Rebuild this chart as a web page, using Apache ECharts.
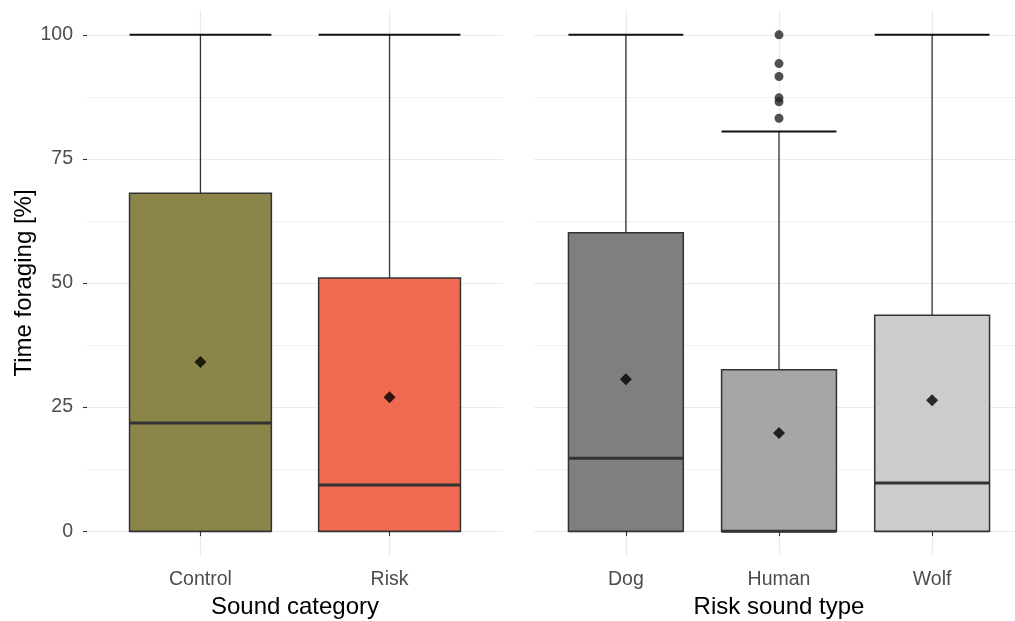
<!DOCTYPE html>
<html>
<head>
<meta charset="utf-8">
<title>Time foraging by sound</title>
<script src="https://cdn.jsdelivr.net/npm/echarts@6/dist/echarts.min.js"></script>
<style>
  html, body { margin: 0; padding: 0; background: #ffffff; }
  #chart { width: 1015px; height: 621px; }
</style>
</head>
<body>
<div id="chart"></div>
<script>
// ---- Panel 1: sound category ----
const soundCategories = ['Control', 'Risk'];
const soundWhiskerLow = [0, 0];
const soundQ1 = [0, 0];
const soundMedian = [21.8, 9.3];
const soundQ3 = [68.1, 51.0];
const soundWhiskerHigh = [100, 100];
const soundMean = [34.1, 27.0];

// ---- Panel 2: risk sound type ----
const riskTypes = ['Dog', 'Human', 'Wolf'];
const riskWhiskerLow = [0, 0, 0];
const riskQ1 = [0, 0, 0];
const riskMedian = [14.7, 0, 9.7];
const riskQ3 = [60.1, 32.5, 43.5];
const riskWhiskerHigh = [100, 80.5, 100];
const riskMean = [30.6, 19.8, 26.4];
const humanOutliers = [83.2, 86.5, 87.3, 91.6, 94.2, 100];

// tick labels
const yTicks = [0, 25, 50, 75, 100];
const yMinorTicks = [12.5, 37.5, 62.5, 87.5];

// fills
const soundFills = ['#8B8549', '#EE6A50'];
const riskFills = ['#7F7F7F', '#A6A6A6', '#CCCCCC'];

const FONT = 'Liberation Sans, Arial, sans-serif';
const GRID_COLOR = '#EBEBEB';
const INK = '#333333';

function boxData(lo, q1, med, q3, hi, fills) {
  return lo.map((_, i) => ({
    value: [i, lo[i], q1[i], med[i], q3[i], hi[i]],
    itemStyle: { color: fills[i] }
  }));
}

function renderBox(params, api) {
  const x = api.value(0);
  const lo = api.value(1), q1 = api.value(2), med = api.value(3), q3 = api.value(4), hi = api.value(5);
  const half = api.size([1, 0])[0] * 0.375;
  const cx = api.coord([x, 0])[0];
  const yLo = api.coord([x, lo])[1];
  const yQ1 = api.coord([x, q1])[1];
  const yMed = api.coord([x, med])[1];
  const yQ3 = api.coord([x, q3])[1];
  const yHi = api.coord([x, hi])[1];
  const fill = api.visual('color');
  return {
    type: 'group',
    children: [
      { type: 'line', shape: { x1: cx, y1: yHi, x2: cx, y2: yLo },
        style: { stroke: INK, lineWidth: 1.3 } },
      { type: 'line', shape: { x1: cx - half, y1: yHi, x2: cx + half, y2: yHi },
        style: { stroke: '#111111', lineWidth: 2 } },
      { type: 'line', shape: { x1: cx - half, y1: yLo, x2: cx + half, y2: yLo },
        style: { stroke: '#111111', lineWidth: 2 } },
      { type: 'rect', shape: { x: cx - half, y: yQ3, width: half * 2, height: yQ1 - yQ3 },
        style: { fill: fill, stroke: INK, lineWidth: 1.5 } },
      { type: 'line', shape: { x1: cx - half, y1: yMed, x2: cx + half, y2: yMed },
        style: { stroke: INK, lineWidth: 3 } }
    ]
  };
}

// x scale padded by 0.6 of a category on each side
function xAxisFor(gridIndex, names, axisTitle) {
  const idx = names.map((_, i) => i);
  return {
    type: 'value', gridIndex: gridIndex,
    min: -0.6, max: names.length - 1 + 0.6,
    name: axisTitle, nameLocation: 'middle', nameGap: 39,
    nameTextStyle: { fontFamily: FONT, fontSize: 24, color: '#000000' },
    axisLine: { show: false },
    axisTick: { show: true, customValues: idx, length: 5, lineStyle: { color: INK, width: 1.1 } },
    axisLabel: { customValues: idx, margin: 14, fontFamily: FONT, fontSize: 19.5, color: '#4D4D4D',
      formatter: v => names[Math.round(v)] },
    splitLine: { show: true, lineStyle: { color: GRID_COLOR, width: 1.2 } }
  };
}

function yAxisMajor(gridIndex, showLabels) {
  return {
    type: 'value', gridIndex: gridIndex, min: -5, max: 105, position: 'left',
    name: showLabels ? 'Time foraging [%]' : '', nameLocation: 'middle', nameGap: 51,
    nameTextStyle: { fontFamily: FONT, fontSize: 24, color: '#000000' },
    axisLine: { show: false },
    axisTick: { show: showLabels, customValues: yTicks, length: 4, lineStyle: { color: INK, width: 1.1 } },
    axisLabel: { show: showLabels, customValues: yTicks, margin: 14, fontFamily: FONT, fontSize: 19.5, color: '#4D4D4D' },
    splitLine: { show: true, lineStyle: { color: GRID_COLOR, width: 1.2 } }
  };
}

function yAxisMinor(gridIndex) {
  return {
    type: 'value', gridIndex: gridIndex, min: -5, max: 105, position: 'left',
    axisLine: { show: false },
    axisTick: { show: false, customValues: yMinorTicks },
    axisLabel: { show: false, customValues: yMinorTicks },
    splitLine: { show: true, lineStyle: { color: GRID_COLOR, width: 0.7 } }
  };
}

const option = {
  backgroundColor: '#ffffff',
  animation: false,
  grid: [
    { left: 87, top: 10, width: 416, height: 546, outerBoundsMode: 'none', containLabel: false },
    { left: 534, top: 10, width: 490, height: 546, outerBoundsMode: 'none', containLabel: false }
  ],
  xAxis: [
    xAxisFor(0, soundCategories, 'Sound category'),
    xAxisFor(1, riskTypes, 'Risk sound type')
  ],
  yAxis: [
    yAxisMinor(0),
    yAxisMajor(0, true),
    yAxisMinor(1),
    yAxisMajor(1, false)
  ],
  series: [
    { type: 'custom', xAxisIndex: 0, yAxisIndex: 1, renderItem: renderBox,
      encode: { x: 0, y: [1, 5] },
      data: boxData(soundWhiskerLow, soundQ1, soundMedian, soundQ3, soundWhiskerHigh, soundFills) },
    { type: 'custom', xAxisIndex: 1, yAxisIndex: 3, renderItem: renderBox,
      encode: { x: 0, y: [1, 5] },
      data: boxData(riskWhiskerLow, riskQ1, riskMedian, riskQ3, riskWhiskerHigh, riskFills) },
    { type: 'scatter', xAxisIndex: 1, yAxisIndex: 3, symbol: 'circle', symbolSize: 9,
      itemStyle: { color: '#262626' },
      data: humanOutliers.map(v => [1, v]) },
    { type: 'scatter', xAxisIndex: 0, yAxisIndex: 1, symbol: 'diamond', symbolSize: 12,
      itemStyle: { color: '#000000' },
      data: soundMean.map((v, i) => [i, v]) },
    { type: 'scatter', xAxisIndex: 1, yAxisIndex: 3, symbol: 'diamond', symbolSize: 12,
      itemStyle: { color: '#000000' },
      data: riskMean.map((v, i) => [i, v]) }
  ]
};

const chart = echarts.init(document.getElementById('chart'), null, { renderer: 'canvas' });
chart.setOption(option);
</script>
</body>
</html>
